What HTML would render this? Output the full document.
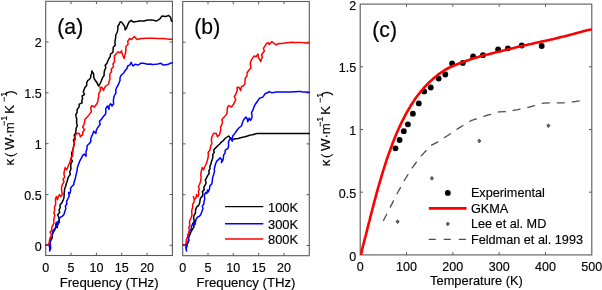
<!DOCTYPE html><html><head><meta charset="utf-8"><style>html,body{margin:0;padding:0;background:#fff;overflow:hidden}svg{display:block}text{stroke:#000;stroke-width:0.15px}svg{will-change:transform}</style></head><body><svg width="602" height="290" viewBox="0 0 602 290" font-family='"Liberation Sans", sans-serif' fill="#000">
<rect width="602" height="290" fill="#fff"/>
<rect x="45.7" y="1.3" width="126.7" height="254.2" fill="none" stroke="#5a5a5a" stroke-width="1.1"/>
<line x1="71.0" y1="255.5" x2="71.0" y2="252.7" stroke="#5a5a5a" stroke-width="1"/><line x1="71.0" y1="1.3" x2="71.0" y2="4.1" stroke="#5a5a5a" stroke-width="1"/><line x1="96.4" y1="255.5" x2="96.4" y2="252.7" stroke="#5a5a5a" stroke-width="1"/><line x1="96.4" y1="1.3" x2="96.4" y2="4.1" stroke="#5a5a5a" stroke-width="1"/><line x1="121.7" y1="255.5" x2="121.7" y2="252.7" stroke="#5a5a5a" stroke-width="1"/><line x1="121.7" y1="1.3" x2="121.7" y2="4.1" stroke="#5a5a5a" stroke-width="1"/><line x1="147.1" y1="255.5" x2="147.1" y2="252.7" stroke="#5a5a5a" stroke-width="1"/><line x1="147.1" y1="1.3" x2="147.1" y2="4.1" stroke="#5a5a5a" stroke-width="1"/>
<line x1="45.7" y1="245.3" x2="48.5" y2="245.3" stroke="#5a5a5a" stroke-width="1"/><line x1="172.4" y1="245.3" x2="169.6" y2="245.3" stroke="#5a5a5a" stroke-width="1"/><line x1="45.7" y1="194.5" x2="48.5" y2="194.5" stroke="#5a5a5a" stroke-width="1"/><line x1="172.4" y1="194.5" x2="169.6" y2="194.5" stroke="#5a5a5a" stroke-width="1"/><line x1="45.7" y1="143.7" x2="48.5" y2="143.7" stroke="#5a5a5a" stroke-width="1"/><line x1="172.4" y1="143.7" x2="169.6" y2="143.7" stroke="#5a5a5a" stroke-width="1"/><line x1="45.7" y1="92.8" x2="48.5" y2="92.8" stroke="#5a5a5a" stroke-width="1"/><line x1="172.4" y1="92.8" x2="169.6" y2="92.8" stroke="#5a5a5a" stroke-width="1"/><line x1="45.7" y1="42.0" x2="48.5" y2="42.0" stroke="#5a5a5a" stroke-width="1"/><line x1="172.4" y1="42.0" x2="169.6" y2="42.0" stroke="#5a5a5a" stroke-width="1"/>
<polyline points="45.7,245.3 49.0,245.3 50.0,243.2 50.5,241.0 52.2,238.2 52.0,235.0 53.5,232.0 54.7,230.2 56.1,226.7 56.4,222.4 56.3,225.1 57.4,227.6 57.1,224.9 57.6,222.3 59.3,219.9 58.7,217.2 57.6,214.8 59.7,212.4 59.0,210.0 60.2,207.6 60.0,205.0 62.1,202.5 63.8,198.5 64.1,196.0 64.1,193.5 64.4,191.1 64.7,188.6 65.7,186.3 66.3,183.8 67.1,181.4 67.8,179.0 68.6,176.6 70.3,174.5 69.8,171.8 70.9,169.1 70.8,166.3 70.9,163.5 72.4,161.2 70.9,158.5 71.9,156.2 71.6,153.0 72.9,150.0 73.8,145.7 74.4,143.1 73.4,140.3 74.9,137.9 74.2,135.2 75.7,132.8 76.0,130.2 76.1,128.0 77.3,125.8 76.7,123.6 76.6,121.4 76.7,119.1 76.2,116.9 75.8,114.6 77.1,112.5 77.1,109.5 79.0,107.1 79.3,104.2 82.1,102.8 81.8,100.5 82.6,98.4 82.1,96.1 84.5,94.3 83.3,91.8 84.0,89.7 84.9,87.6 86.7,85.6 86.7,83.0 87.6,80.7 89.3,79.5 90.7,77.6 90.9,75.3 91.7,73.3 91.8,71.0 93.7,73.8 93.7,77.2 94.5,79.3 97.0,82.8 98.7,86.2 100.1,83.5 101.4,80.7 102.4,77.9 104.1,75.5 104.2,72.4 104.6,70.1 105.8,68.0 105.2,65.3 106.9,63.4 107.8,61.0 108.8,58.7 110.3,56.6 110.5,54.0 112.9,52.3 113.1,49.7 113.3,47.2 115.3,45.1 114.9,42.5 115.2,40.0 115.7,37.7 115.7,35.3 116.7,33.2 117.6,31.0 117.9,28.7 117.8,26.2 119.2,24.3 120.1,22.1 121.7,22.1 123.5,24.7 124.9,27.1 125.2,29.8 126.8,27.6 127.7,24.8 129.0,22.1 131.2,20.3 133.4,22.1 136.7,21.6 138.9,21.0 141.1,21.0 143.9,21.0 146.6,20.3 149.4,20.0 152.2,19.9 154.4,20.6 156.6,21.0 159.9,18.8 162.1,15.9 165.4,16.6 168.7,15.5 170.5,17.2 171.4,21.0 172.2,21.0" fill="none" stroke="#000" stroke-width="1.5" stroke-linejoin="round" stroke-linecap="round" />
<polyline points="45.7,245.3 49.0,245.3 49.8,248.1 49.6,251.0 50.7,248.4 50.5,245.7 50.3,243.0 49.7,240.0 50.9,237.1 52.5,234.3 52.6,231.0 54.3,229.3 56.0,227.0 55.7,224.1 56.9,222.4 57.8,225.0 59.4,222.2 59.2,219.0 60.4,217.2 62.1,216.4 63.8,214.7 65.0,211.0 65.8,208.7 65.4,206.1 66.8,204.0 66.6,201.4 67.8,199.0 69.2,195.9 68.6,192.5 69.8,193.5 70.6,191.1 70.5,188.5 71.9,186.3 73.8,184.6 74.0,182.1 75.0,179.8 75.5,177.3 76.0,174.9 77.1,170.7 77.3,168.0 78.1,165.5 79.6,161.4 81.2,158.3 82.9,155.2 84.3,154.1 86.0,156.2 86.1,153.8 86.0,151.3 87.0,149.0 87.1,145.8 89.3,143.5 90.9,141.5 90.7,139.0 91.5,136.8 92.7,134.1 93.7,131.3 95.9,133.5 96.2,130.6 97.4,128.0 98.7,126.3 100.2,124.2 99.4,121.3 101.4,119.4 103.0,117.0 105.6,113.9 105.9,111.2 105.8,108.4 107.5,106.0 109.1,109.3 109.0,106.3 110.6,103.7 112.0,106.0 113.6,104.0 113.4,101.6 113.5,99.3 113.9,97.1 114.7,94.9 116.0,92.9 115.7,90.5 116.6,87.6 118.2,85.0 119.1,82.7 120.0,80.4 120.0,77.8 121.0,75.5 123.9,72.7 125.2,70.5 127.0,68.5 127.7,66.0 130.1,64.8 131.1,62.3 133.0,66.0 135.3,64.2 138.1,65.1 141.0,63.2 143.3,63.2 145.5,63.7 147.8,64.3 150.1,64.0 152.4,64.6 155.2,64.3 158.0,63.9 160.7,63.2 163.4,65.1 167.6,64.6 169.8,63.5 172.2,62.8" fill="none" stroke="#0000ff" stroke-width="1.5" stroke-linejoin="round" stroke-linecap="round" />
<polyline points="45.7,245.3 48.3,245.3 49.2,242.2 49.7,239.6 50.6,237.1 51.7,234.8 50.0,232.2 51.8,230.0 51.8,227.6 53.0,225.0 54.0,222.8 53.7,220.4 54.0,218.1 54.8,215.5 53.8,212.8 54.7,210.3 54.5,207.2 55.7,204.3 55.6,201.7 55.4,199.1 56.4,196.6 57.4,199.7 58.1,197.0 59.5,194.6 60.9,196.6 62.3,194.3 61.8,191.7 61.5,189.1 61.7,186.6 62.6,184.2 64.0,181.9 63.1,179.2 64.7,176.9 63.9,174.3 64.2,171.8 65.1,167.6 66.7,169.7 67.6,167.6 68.4,165.5 69.8,162.4 70.9,158.3 72.5,155.8 72.8,152.9 72.9,150.0 73.8,145.7 74.3,143.5 74.2,141.2 75.5,139.1 74.9,136.8 76.6,133.2 79.3,133.5 80.4,136.8 82.6,134.6 82.8,132.0 84.4,129.7 82.7,126.8 84.0,124.4 84.6,121.9 84.9,119.4 87.6,116.6 89.8,113.9 91.5,111.4 90.6,108.2 91.8,105.6 94.5,107.0 96.5,104.2 97.8,101.9 98.0,99.4 98.7,97.0 98.7,94.5 99.4,92.3 100.7,90.1 100.0,87.6 101.8,87.2 103.6,90.5 104.3,88.1 105.8,86.0 108.7,84.0 109.1,81.4 110.0,79.0 109.8,76.4 109.9,73.9 111.5,71.7 111.3,69.0 113.5,66.8 113.0,64.0 114.5,61.5 114.4,58.5 114.5,55.8 116.3,53.7 118.2,51.8 120.1,52.8 121.6,50.9 122.0,53.3 122.9,55.6 124.3,58.5 124.6,56.1 125.3,53.8 125.8,51.4 125.8,49.0 126.0,46.4 128.1,44.2 127.7,41.4 129.6,38.5 131.5,39.5 134.3,36.6 137.2,39.5 141.0,38.5 143.2,38.4 145.5,38.3 147.7,38.2 149.9,38.3 152.1,38.2 154.3,38.3 156.6,38.4 158.8,38.5 161.0,38.6 163.2,38.6 165.4,38.8 167.7,38.9 169.9,39.2 172.2,39.3" fill="none" stroke="#ff0000" stroke-width="1.5" stroke-linejoin="round" stroke-linecap="round" />
<text x="45.7" y="271.5" font-size="12.5" text-anchor="middle" >0</text>
<text x="71.0" y="271.5" font-size="12.5" text-anchor="middle" >5</text>
<text x="96.4" y="271.5" font-size="12.5" text-anchor="middle" >10</text>
<text x="121.7" y="271.5" font-size="12.5" text-anchor="middle" >15</text>
<text x="147.1" y="271.5" font-size="12.5" text-anchor="middle" >20</text>
<text x="41.7" y="250.5" font-size="12.5" text-anchor="end" >0</text>
<text x="41.7" y="199.7" font-size="12.5" text-anchor="end" >0.5</text>
<text x="41.7" y="148.9" font-size="12.5" text-anchor="end" >1</text>
<text x="41.7" y="98.0" font-size="12.5" text-anchor="end" >1.5</text>
<text x="41.7" y="47.2" font-size="12.5" text-anchor="end" >2</text>
<text x="109.1" y="286.5" font-size="13.2" text-anchor="middle" >Frequency (THz)</text>
<text x="57.3" y="34.0" font-size="21.2" text-anchor="start" style="stroke-width:0.2px">(a)</text>
<rect x="182.7" y="1.5" width="126.6" height="254.2" fill="none" stroke="#5a5a5a" stroke-width="1.1"/>
<line x1="208.0" y1="255.7" x2="208.0" y2="252.89999999999998" stroke="#5a5a5a" stroke-width="1"/><line x1="208.0" y1="1.5" x2="208.0" y2="4.3" stroke="#5a5a5a" stroke-width="1"/><line x1="233.3" y1="255.7" x2="233.3" y2="252.89999999999998" stroke="#5a5a5a" stroke-width="1"/><line x1="233.3" y1="1.5" x2="233.3" y2="4.3" stroke="#5a5a5a" stroke-width="1"/><line x1="258.7" y1="255.7" x2="258.7" y2="252.89999999999998" stroke="#5a5a5a" stroke-width="1"/><line x1="258.7" y1="1.5" x2="258.7" y2="4.3" stroke="#5a5a5a" stroke-width="1"/><line x1="284.0" y1="255.7" x2="284.0" y2="252.89999999999998" stroke="#5a5a5a" stroke-width="1"/><line x1="284.0" y1="1.5" x2="284.0" y2="4.3" stroke="#5a5a5a" stroke-width="1"/>
<line x1="182.7" y1="245.5" x2="185.5" y2="245.5" stroke="#5a5a5a" stroke-width="1"/><line x1="309.3" y1="245.5" x2="306.5" y2="245.5" stroke="#5a5a5a" stroke-width="1"/><line x1="182.7" y1="194.7" x2="185.5" y2="194.7" stroke="#5a5a5a" stroke-width="1"/><line x1="309.3" y1="194.7" x2="306.5" y2="194.7" stroke="#5a5a5a" stroke-width="1"/><line x1="182.7" y1="143.9" x2="185.5" y2="143.9" stroke="#5a5a5a" stroke-width="1"/><line x1="309.3" y1="143.9" x2="306.5" y2="143.9" stroke="#5a5a5a" stroke-width="1"/><line x1="182.7" y1="93.0" x2="185.5" y2="93.0" stroke="#5a5a5a" stroke-width="1"/><line x1="309.3" y1="93.0" x2="306.5" y2="93.0" stroke="#5a5a5a" stroke-width="1"/><line x1="182.7" y1="42.2" x2="185.5" y2="42.2" stroke="#5a5a5a" stroke-width="1"/><line x1="309.3" y1="42.2" x2="306.5" y2="42.2" stroke="#5a5a5a" stroke-width="1"/>
<polyline points="182.7,245.3 186.6,245.3 187.9,243.0 188.7,240.7 188.5,238.0 189.6,235.5 190.5,233.0 192.4,229.4 194.0,226.9 192.7,223.6 194.4,221.1 193.6,218.2 194.0,215.4 195.5,212.8 195.6,209.6 196.9,206.6 198.6,205.5 199.8,202.5 200.0,200.2 200.6,198.0 202.3,196.2 202.9,194.0 202.4,191.5 204.3,189.6 203.8,187.1 205.2,185.0 206.2,182.8 205.3,180.0 206.6,177.8 207.6,175.6 209.2,173.5 208.8,170.9 210.1,168.7 209.9,166.2 211.0,164.0 211.4,161.6 212.4,159.2 212.9,156.6 212.8,154.3 214.3,152.4 213.7,149.9 215.4,148.1 217.8,145.7 219.7,144.0 221.4,142.1 223.4,140.5 225.0,138.5 228.6,136.0 230.3,138.0 232.3,139.7 235.2,138.8 238.3,138.5 240.5,137.8 242.7,137.2 245.0,136.8 248.3,135.7 250.4,134.9 252.7,134.7 254.9,134.0 257.1,133.5 259.4,133.6 261.6,133.5 263.9,133.6 266.2,133.6 268.4,133.4 270.7,133.6 273.0,133.6 275.2,133.4 277.5,133.5 279.8,133.5 282.0,133.5 284.3,133.4 286.5,133.5 288.8,133.5 291.1,133.6 293.3,133.6 295.6,133.5 297.9,133.6 300.1,133.6 302.4,133.6 304.7,133.4 306.9,133.4 309.2,133.5" fill="none" stroke="#000" stroke-width="1.5" stroke-linejoin="round" stroke-linecap="round" />
<polyline points="182.7,245.3 186.0,245.3 185.9,248.2 186.6,251.0 186.2,248.3 187.2,245.7 187.3,243.0 188.7,240.2 187.9,237.1 188.5,234.0 189.6,231.0 191.3,229.3 191.4,226.5 192.7,224.1 193.9,222.4 194.8,225.0 195.4,222.0 196.2,219.0 197.4,217.2 199.1,216.4 200.8,214.7 202.0,211.0 203.0,208.8 202.3,206.1 203.8,204.0 204.0,201.4 204.8,199.0 204.3,195.6 205.6,192.5 206.8,193.5 207.5,190.0 208.3,191.9 209.5,188.9 209.9,185.7 211.7,184.2 212.2,181.8 212.4,179.1 213.0,176.5 213.8,174.0 214.5,171.5 214.3,168.8 214.9,166.3 215.6,163.8 216.6,161.4 218.4,159.6 220.2,157.8 221.8,160.0 221.4,162.6 222.9,160.4 223.4,157.9 223.6,155.2 225.0,153.0 225.3,150.1 228.0,148.4 228.6,145.7 228.4,142.9 229.1,140.3 230.7,137.9 232.2,141.2 232.2,138.4 232.9,135.8 234.7,133.6 237.1,130.0 238.9,128.0 241.5,125.8 242.5,122.5 243.8,119.5 246.0,117.0 247.3,119.2 247.8,121.8 249.3,118.1 250.6,120.3 251.9,118.0 252.0,115.4 251.5,112.7 252.8,110.4 253.8,107.5 255.0,104.8 257.3,101.5 259.5,98.2 262.8,97.1 265.0,93.8 268.3,92.3 269.3,91.6 271.5,92.7 273.7,92.6 275.9,92.0 278.1,92.0 280.3,92.1 282.5,91.9 284.8,92.1 287.0,92.1 289.2,92.0 291.4,92.0 293.6,91.8 295.8,91.7 298.0,91.6 300.2,91.6 302.5,91.9 304.7,92.1 307.0,92.1 309.2,92.3" fill="none" stroke="#0000ff" stroke-width="1.5" stroke-linejoin="round" stroke-linecap="round" />
<polyline points="182.7,245.3 185.3,245.3 186.2,242.2 186.4,239.5 187.6,237.1 188.0,234.7 188.8,232.4 189.4,230.1 188.8,227.6 190.0,225.0 189.4,222.6 189.9,220.3 191.0,218.1 191.9,215.6 191.8,212.9 191.7,210.3 192.7,207.4 192.7,204.3 194.1,201.8 194.2,199.3 193.4,196.6 194.4,199.7 196.2,197.5 196.5,194.6 197.9,196.6 198.9,194.2 198.3,191.6 199.3,189.2 198.5,186.6 199.6,184.2 200.5,181.8 200.9,179.3 201.1,176.8 200.7,174.3 201.2,171.8 202.1,167.6 203.7,169.7 204.3,167.5 205.4,165.5 206.8,162.4 207.9,158.3 208.4,155.5 208.1,152.5 209.9,150.0 210.8,145.7 211.9,143.6 211.5,141.3 211.4,139.0 211.9,136.8 213.6,133.2 216.3,133.5 217.4,136.8 219.6,134.6 220.1,132.1 220.9,129.6 220.5,127.0 221.9,124.6 222.5,122.1 221.9,119.4 224.6,116.6 226.8,113.9 227.2,111.1 227.3,108.2 228.8,105.6 231.5,107.0 233.5,104.2 234.7,101.9 235.8,99.6 234.3,96.7 235.7,94.5 236.6,92.3 237.3,90.0 237.0,87.6 238.8,87.2 240.6,90.5 241.5,86.5 243.0,86.0 244.9,83.9 245.0,81.0 245.2,78.2 247.0,76.0 247.1,72.7 249.0,70.0 250.9,68.1 250.6,65.5 250.3,63.0 251.0,60.8 252.3,58.7 254.2,55.9 256.1,56.8 258.0,54.0 258.3,56.4 259.0,58.7 260.9,61.6 261.2,59.4 262.4,57.4 261.6,55.0 262.8,53.0 264.4,51.1 263.4,48.4 264.7,46.4 266.6,43.5 268.1,42.6 269.4,44.5 271.9,41.6 274.2,43.5 276.4,44.9 278.9,43.5 282.0,43.4 285.0,43.0 289.2,42.4 291.8,42.3 294.3,42.4 296.9,42.4 299.4,42.4 301.8,42.6 304.3,42.7 306.7,42.9 309.2,43.0" fill="none" stroke="#ff0000" stroke-width="1.5" stroke-linejoin="round" stroke-linecap="round" />
<text x="182.7" y="271.5" font-size="12.5" text-anchor="middle" >0</text>
<text x="208.0" y="271.5" font-size="12.5" text-anchor="middle" >5</text>
<text x="233.3" y="271.5" font-size="12.5" text-anchor="middle" >10</text>
<text x="258.7" y="271.5" font-size="12.5" text-anchor="middle" >15</text>
<text x="284.0" y="271.5" font-size="12.5" text-anchor="middle" >20</text>
<text x="246.0" y="286.5" font-size="13.2" text-anchor="middle" >Frequency (THz)</text>
<text x="194.3" y="34.0" font-size="21.2" text-anchor="start" style="stroke-width:0.2px">(b)</text>
<line x1="225" y1="206.6" x2="263.3" y2="206.6" stroke="#000" stroke-width="1.35"/>
<text x="268.0" y="211.6" font-size="12.9" text-anchor="start" >100K</text>
<line x1="225" y1="223.7" x2="263.3" y2="223.7" stroke="#0000ff" stroke-width="1.35"/>
<text x="268.0" y="228.7" font-size="12.9" text-anchor="start" >300K</text>
<line x1="225" y1="239.0" x2="263.3" y2="239.0" stroke="#ff0000" stroke-width="1.35"/>
<text x="268.0" y="244.0" font-size="12.9" text-anchor="start" >800K</text>
<rect x="360.2" y="4.1" width="231.6" height="250.8" fill="none" stroke="#5a5a5a" stroke-width="1.1"/>
<line x1="406.5" y1="254.9" x2="406.5" y2="252.1" stroke="#5a5a5a" stroke-width="1"/><line x1="406.5" y1="4.1" x2="406.5" y2="6.8999999999999995" stroke="#5a5a5a" stroke-width="1"/><line x1="452.8" y1="254.9" x2="452.8" y2="252.1" stroke="#5a5a5a" stroke-width="1"/><line x1="452.8" y1="4.1" x2="452.8" y2="6.8999999999999995" stroke="#5a5a5a" stroke-width="1"/><line x1="499.2" y1="254.9" x2="499.2" y2="252.1" stroke="#5a5a5a" stroke-width="1"/><line x1="499.2" y1="4.1" x2="499.2" y2="6.8999999999999995" stroke="#5a5a5a" stroke-width="1"/><line x1="545.5" y1="254.9" x2="545.5" y2="252.1" stroke="#5a5a5a" stroke-width="1"/><line x1="545.5" y1="4.1" x2="545.5" y2="6.8999999999999995" stroke="#5a5a5a" stroke-width="1"/>
<line x1="360.2" y1="192.2" x2="363.0" y2="192.2" stroke="#5a5a5a" stroke-width="1"/><line x1="591.8" y1="192.2" x2="589.0" y2="192.2" stroke="#5a5a5a" stroke-width="1"/><line x1="360.2" y1="129.5" x2="363.0" y2="129.5" stroke="#5a5a5a" stroke-width="1"/><line x1="591.8" y1="129.5" x2="589.0" y2="129.5" stroke="#5a5a5a" stroke-width="1"/><line x1="360.2" y1="66.8" x2="363.0" y2="66.8" stroke="#5a5a5a" stroke-width="1"/><line x1="591.8" y1="66.8" x2="589.0" y2="66.8" stroke="#5a5a5a" stroke-width="1"/>
<polyline points="383.5,220.5 390.2,207.3 397.6,192.7 404.9,179.5 412.2,167.8 421.0,156.1 431.2,145.3 437.1,142.3 448.2,135.2 459.6,127.6 471.0,120.7 487.6,115.2 498.7,111.9 505.6,111.6 518.0,109.7 528.3,107.3 535.4,105.5 543.2,103.2 550.6,102.9 565.5,102.8 573.5,101.8 580.7,100.7" fill="none" stroke="#4d4d4d" stroke-width="1.3" stroke-linejoin="round" stroke-linecap="round" stroke-dasharray="7 8" stroke-linecap="butt"/>
<path d="M397.6,219.8 L399.1,221.7 L397.6,223.6 L396.1,221.7 Z" fill="#6a6a6a" stroke="#4a4a4a" stroke-width="1"/>
<path d="M431.9,176.4 L433.4,178.3 L431.9,180.2 L430.4,178.3 Z" fill="#6a6a6a" stroke="#4a4a4a" stroke-width="1"/>
<path d="M479.3,139.0 L480.8,140.9 L479.3,142.8 L477.8,140.9 Z" fill="#6a6a6a" stroke="#4a4a4a" stroke-width="1"/>
<path d="M548.4,123.8 L549.9,125.7 L548.4,127.6 L546.9,125.7 Z" fill="#6a6a6a" stroke="#4a4a4a" stroke-width="1"/>
<circle cx="395.5" cy="148.3" r="2.9" fill="#000"/>
<circle cx="399.6" cy="140" r="2.9" fill="#000"/>
<circle cx="403.8" cy="131.2" r="2.9" fill="#000"/>
<circle cx="407.9" cy="124.3" r="2.9" fill="#000"/>
<circle cx="412.9" cy="113.7" r="2.9" fill="#000"/>
<circle cx="418.8" cy="103.4" r="2.9" fill="#000"/>
<circle cx="424.2" cy="91.4" r="2.9" fill="#000"/>
<circle cx="430.8" cy="87.5" r="2.9" fill="#000"/>
<circle cx="438.7" cy="78.6" r="2.9" fill="#000"/>
<circle cx="445.3" cy="74.5" r="2.9" fill="#000"/>
<circle cx="452.1" cy="63.4" r="2.9" fill="#000"/>
<circle cx="462.8" cy="62.9" r="2.9" fill="#000"/>
<circle cx="473.1" cy="56.4" r="2.9" fill="#000"/>
<circle cx="482.9" cy="55.2" r="2.9" fill="#000"/>
<circle cx="498.1" cy="49.5" r="2.9" fill="#000"/>
<circle cx="507.9" cy="48.3" r="2.9" fill="#000"/>
<circle cx="521.8" cy="45.5" r="2.9" fill="#000"/>
<circle cx="541.7" cy="46" r="2.9" fill="#000"/>
<polyline points="361.2,254.6 362.1,249.3 363.0,245.9 363.9,242.5 364.8,238.9 365.8,235.3 366.7,231.6 367.6,227.9 368.5,224.2 369.5,220.6 370.4,216.9 372.3,209.7 374.1,202.6 376.0,195.6 377.8,188.9 379.7,182.3 381.6,176.0 383.4,170.0 385.3,164.1 387.1,158.5 389.0,153.1 390.9,148.0 392.7,143.0 394.6,138.3 396.4,133.8 398.3,129.5 400.2,125.4 402.0,121.6 403.9,117.8 405.7,114.3 407.6,111.0 409.5,107.8 411.3,104.7 413.2,101.9 415.0,99.1 416.9,96.5 418.8,94.1 420.6,91.7 422.5,89.5 424.3,87.4 426.2,85.4 428.1,83.5 429.9,81.7 431.8,79.9 433.7,78.3 435.5,76.8 437.4,75.3 439.2,73.9 441.1,72.5 443.0,71.3 444.8,70.0 446.7,69.0 448.5,68.0 450.4,67.1 452.3,66.3 454.1,65.5 456.0,64.7 457.8,64.0 459.7,63.3 461.6,62.6 463.4,61.9 465.3,61.2 467.1,60.5 469.0,59.9 470.9,59.2 472.7,58.6 474.6,58.0 476.4,57.4 478.3,56.9 480.2,56.3 482.0,55.8 483.9,55.3 485.7,54.8 487.6,54.4 489.5,53.9 491.3,53.4 493.2,53.0 495.0,52.6 496.9,52.1 498.8,51.7 500.6,51.2 502.5,50.7 504.4,50.3 506.2,49.8 508.1,49.3 509.9,48.9 511.8,48.4 513.7,48.0 515.5,47.5 517.4,47.1 519.2,46.6 521.1,46.2 523.0,45.8 524.8,45.3 526.7,44.9 528.5,44.5 530.4,44.1 532.3,43.7 534.1,43.2 536.0,42.8 537.8,42.4 539.7,42.0 541.6,41.6 543.4,41.2 545.3,40.8 547.1,40.4 549.0,40.0 550.9,39.6 552.7,39.2 554.6,38.8 556.4,38.3 558.3,37.8 560.2,37.3 562.0,36.8 563.9,36.4 565.8,35.9 567.6,35.4 569.5,34.9 571.3,34.4 573.2,34.0 575.1,33.5 576.9,33.0 578.8,32.5 580.6,32.1 582.5,31.6 584.4,31.1 586.2,30.6 588.1,30.1 589.9,29.7 591.8,29.2" fill="none" stroke="#ff0000" stroke-width="2.6" stroke-linejoin="round" stroke-linecap="butt"/>
<text x="360.2" y="271.0" font-size="12.5" text-anchor="middle" >0</text>
<text x="406.5" y="271.0" font-size="12.5" text-anchor="middle" >100</text>
<text x="452.8" y="271.0" font-size="12.5" text-anchor="middle" >200</text>
<text x="499.2" y="271.0" font-size="12.5" text-anchor="middle" >300</text>
<text x="545.5" y="271.0" font-size="12.5" text-anchor="middle" >400</text>
<text x="591.8" y="271.0" font-size="12.5" text-anchor="middle" >500</text>
<text x="356.2" y="261.4" font-size="12.5" text-anchor="end" >0</text>
<text x="356.2" y="197.7" font-size="12.5" text-anchor="end" >0.5</text>
<text x="356.2" y="135.0" font-size="12.5" text-anchor="end" >1</text>
<text x="356.2" y="72.3" font-size="12.5" text-anchor="end" >1.5</text>
<text x="356.2" y="9.6" font-size="12.5" text-anchor="end" >2</text>
<text x="476.5" y="285.2" font-size="12.85" text-anchor="middle" >Temperature (K)</text>
<text x="372.3" y="37.0" font-size="21.2" text-anchor="start" style="stroke-width:0.2px">(c)</text>
<circle cx="447.8" cy="192.9" r="2.9" fill="#000"/>
<line x1="428.8" y1="208.4" x2="466.6" y2="208.4" stroke="#ff0000" stroke-width="2.6"/>
<path d="M447.8,222.0 L449.3,223.9 L447.8,225.8 L446.3,223.9 Z" fill="#6a6a6a" stroke="#4a4a4a" stroke-width="1"/>
<line x1="428.8" y1="239.4" x2="466.6" y2="239.4" stroke="#4d4d4d" stroke-width="1.3" stroke-dasharray="7 8"/>
<text x="470.9" y="197.3" font-size="12.7" text-anchor="start" >Experimental</text>
<text x="470.9" y="212.8" font-size="12.7" text-anchor="start" >GKMA</text>
<text x="470.9" y="228.4" font-size="12.7" text-anchor="start" >Lee et al. MD</text>
<text x="470.9" y="244.0" font-size="12.7" text-anchor="start" >Feldman et al. 1993</text>
<g transform='translate(14.0,165.0) rotate(-90)'><text x='-0.4' y='0' font-size='13.2'>κ</text><text x='7.9' y='0' font-size='13.2'>(</text><text x='14.9' y='0' font-size='13.2'>W·m</text><text x='39' y='-7' font-size='9'>−1</text><text x='51.2' y='0' font-size='13.2'>K</text><text x='63' y='-7' font-size='9'>−1</text><text x='70.3' y='0' font-size='13.2'>)</text></g>
<g transform='translate(330.0,165.9) rotate(-90)'><text x='-0.4' y='0' font-size='13.2'>κ</text><text x='7.9' y='0' font-size='13.2'>(</text><text x='14.9' y='0' font-size='13.2'>W·m</text><text x='39' y='-7' font-size='9'>−1</text><text x='51.2' y='0' font-size='13.2'>K</text><text x='63' y='-7' font-size='9'>−1</text><text x='70.3' y='0' font-size='13.2'>)</text></g>
</svg></body></html>
